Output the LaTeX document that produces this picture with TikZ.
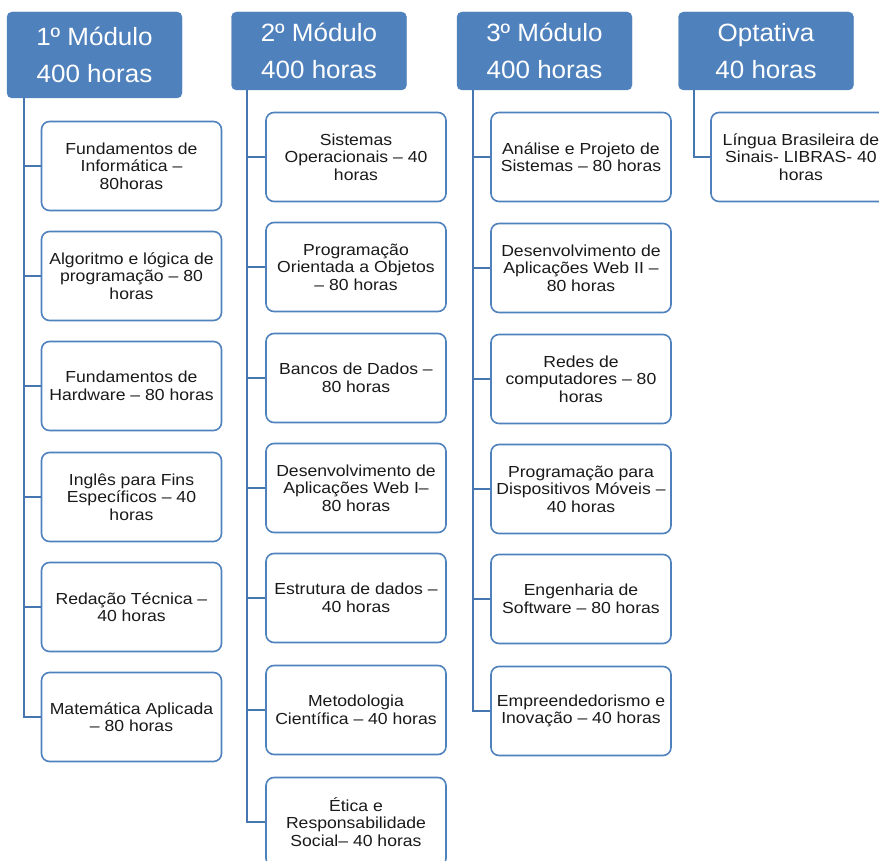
\documentclass[tikz,border=0pt]{standalone}
\usepackage{fontspec}
\setmainfont{Liberation Sans}
\newfontfamily\boxfont[FakeStretch=1.1]{Liberation Sans}
\newfontfamily\hdrfont[FakeStretch=1.04]{Liberation Sans}
\definecolor{hblue}{HTML}{4F81BD}
\definecolor{lblue}{HTML}{4576B0}
\definecolor{txt}{HTML}{1A1A1A}
\tikzset{
  hdr/.style={draw=hblue, fill=hblue, rounded corners=5pt, minimum width=175pt,
    text=white, align=center, inner sep=0pt, font={\hdrfont\fontsize{25}{37}\selectfont}},
  item/.style={draw=hblue, line width=1.6pt, fill=white, rounded corners=8pt,
    minimum width=180pt, minimum height=89pt, align=center, inner sep=0pt,
    text=txt, font={\boxfont\fontsize{16}{17.5}\selectfont}},
  conn/.style={draw=lblue, line width=2.2pt}
}
\begin{document}
\begin{tikzpicture}[x=1pt,y=-1pt]
\useasboundingbox (0,0) rectangle (879,861);
% headers
\node[hdr, minimum height=86pt] (h1) at (94.5,55) {1º Módulo\\400 horas};
\node[hdr, minimum height=78pt] (h2) at (319,51) {2º Módulo\\400 horas};
\node[hdr, minimum height=78pt] (h3) at (544.5,51) {3º Módulo\\400 horas};
\node[hdr, minimum height=78pt] (h4) at (766,51) {Optativa\\40 horas};
% column 1
\node[item] (a1) at (131.5,166) {Fundamentos de\\Informática –\\80horas};
\node[item] (a2) at (131.5,276) {Algoritmo e lógica de\\programação – 80\\horas};
\node[item] (a3) at (131.5,386) {Fundamentos de\\Hardware – 80 horas};
\node[item] (a4) at (131.5,497) {Inglês para Fins\\Específicos – 40\\horas};
\node[item] (a5) at (131.5,607) {Redação Técnica –\\40 horas};
\node[item] (a6) at (131.5,717) {Matemática Aplicada\\– 80 horas};
% column 2
\node[item] (b1) at (356,157) {Sistemas\\Operacionais – 40\\horas};
\node[item] (b2) at (356,267) {Programação\\Orientada a Objetos\\– 80 horas};
\node[item] (b3) at (356,378) {Bancos de Dados –\\80 horas};
\node[item] (b4) at (356,488) {Desenvolvimento de\\Aplicações Web I–\\80 horas};
\node[item] (b5) at (356,598) {Estrutura de dados –\\40 horas};
\node[item] (b6) at (356,710) {Metodologia\\Científica – 40 horas};
\node[item] (b7) at (356,822) {Ética e\\Responsabilidade\\Social– 40 horas};
% column 3
\node[item] (c1) at (581,157) {Análise e Projeto de\\Sistemas – 80 horas};
\node[item] (c2) at (581,268) {Desenvolvimento de\\Aplicações Web II –\\80 horas};
\node[item] (c3) at (581,379) {Redes de\\computadores – 80\\horas};
\node[item] (c4) at (581,489) {Programação para\\Dispositivos Móveis –\\40 horas};
\node[item] (c5) at (581,599) {Engenharia de\\Software – 80 horas};
\node[item] (c6) at (581,711) {Empreendedorismo e\\Inovação – 40 horas};
% optativa
\node[item] (d1) at (801,157) {Língua Brasileira de\\Sinais- LIBRAS- 40\\horas};
% connectors
\foreach \n in {a1,a2,a3,a4,a5,a6}
  \draw[conn] ([xshift=17pt]h1.south west) |- (\n.west);
\foreach \n in {b1,b2,b3,b4,b5,b6,b7}
  \draw[conn] ([xshift=16pt]h2.south west) |- (\n.west);
\foreach \n in {c1,c2,c3,c4,c5,c6}
  \draw[conn] ([xshift=16pt]h3.south west) |- (\n.west);
\draw[conn] ([xshift=16pt]h4.south west) |- (d1.west);
\end{tikzpicture}
\end{document}
